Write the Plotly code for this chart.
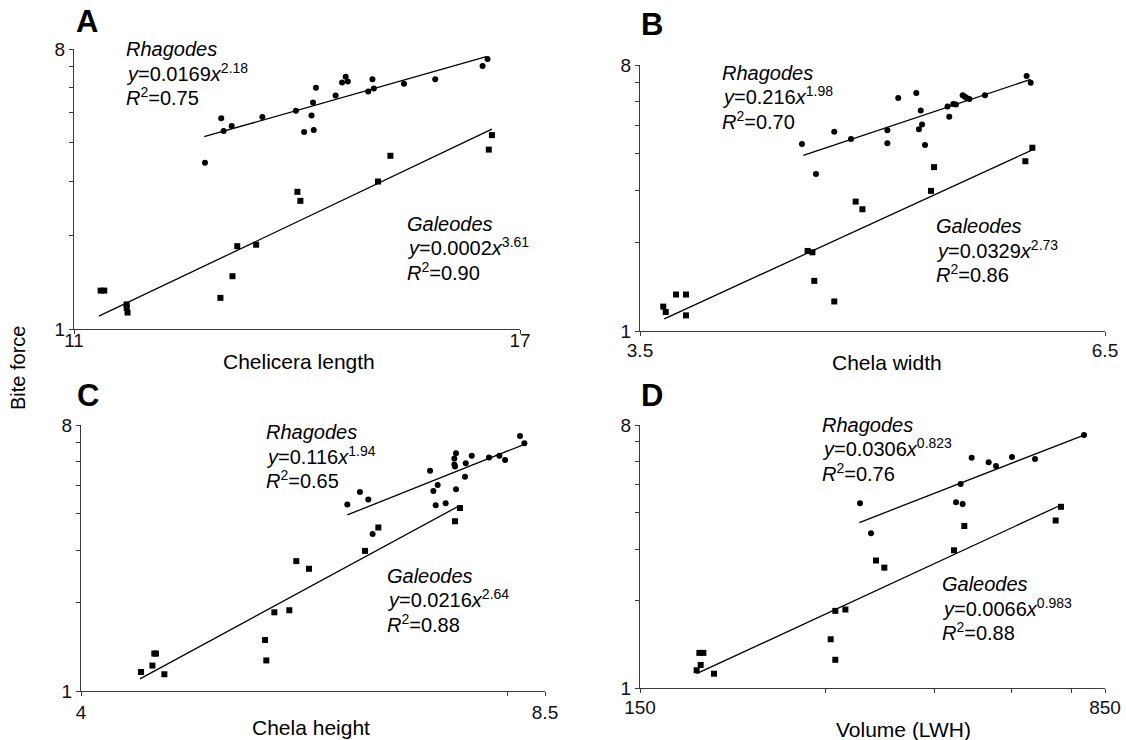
import math
import plotly.graph_objects as go

W, H = 1126, 740
FONT = "Liberation Sans, Arial, sans-serif"

# ---------------- data ----------------
# Panel A : Chelicera length
a_rh_x = [12.50, 12.70, 12.73, 12.83, 13.22, 13.66, 13.77, 13.87, 13.89, 13.90, 13.93,
          14.20, 14.29, 14.34, 14.37, 14.66, 14.72, 14.74, 15.18, 15.65, 16.39, 16.47]
a_rh_y = [3.44, 4.78, 4.35, 4.52, 4.83, 5.06, 4.32, 4.88, 5.38, 4.38, 6.00,
          5.66, 6.24, 6.51, 6.28, 5.84, 6.39, 5.97, 6.18, 6.39, 7.05, 7.43]
a_ga_x = [11.29, 11.33, 11.58, 11.58, 11.59, 12.69, 12.84, 12.90, 13.14, 13.68, 13.72,
          14.80, 14.98, 16.49, 16.54]
a_ga_y = [1.33, 1.33, 1.20, 1.17, 1.13, 1.26, 1.48, 1.85, 1.87, 2.77, 2.59,
          2.99, 3.62, 3.79, 4.22]
a_rh_fit_x = [12.49, 16.45]
a_rh_fit_y = [4.17, 7.56]
a_ga_fit_x = [11.27, 16.54]
a_ga_fit_y = [1.10, 4.41]

# Panel B : Chela width
b_rh_x = [4.342, 4.424, 4.533, 4.635, 4.865, 4.865, 4.936, 5.056, 5.074, 5.086, 5.095, 5.115,
          5.271, 5.283, 5.311, 5.330, 5.378, 5.394, 5.406, 5.426, 5.540, 5.856, 5.888]
b_rh_y = [4.31, 3.41, 4.75, 4.49, 4.80, 4.34, 6.18, 6.43, 4.84, 5.61, 5.02, 4.28,
          5.78, 5.34, 5.90, 5.88, 6.31, 6.24, 6.18, 6.13, 6.31, 7.34, 6.97]
b_ga_x = [3.610, 3.622, 3.672, 3.721, 3.721, 4.375, 4.403, 4.414, 4.533, 4.664, 4.706,
          5.156, 5.177, 5.846, 5.901]
b_ga_y = [1.21, 1.16, 1.33, 1.33, 1.13, 1.87, 1.85, 1.48, 1.26, 2.75, 2.59,
          2.99, 3.60, 3.77, 4.19]
b_rh_fit_x = [4.35, 5.888]
b_rh_fit_y = [3.95, 7.15]
b_ga_fit_x = [3.615, 5.901]
b_ga_fit_y = [1.10, 4.12]

# Panel C : Chela height
c_rh_x = [6.165, 6.293, 6.379, 6.424, 7.052, 7.090, 7.117, 7.140, 7.233, 7.336, 7.336,
          7.344, 7.356, 7.356, 7.464, 7.473, 7.546, 7.761, 7.893, 7.966, 8.162, 8.220]
c_rh_y = [4.30, 4.74, 4.47, 3.41, 5.60, 4.78, 4.27, 5.00, 4.34, 6.16, 5.88,
          5.78, 6.41, 4.84, 5.34, 5.93, 6.29, 6.20, 6.29, 6.08, 7.34, 6.93]
c_ga_x = [4.410, 4.492, 4.506, 4.518, 4.580, 5.394, 5.405, 5.476, 5.611, 5.675, 5.793,
          6.345, 6.484, 7.344, 7.404]
c_ga_y = [1.16, 1.22, 1.34, 1.34, 1.14, 1.49, 1.27, 1.85, 1.88, 2.76, 2.60,
          2.99, 3.59, 3.77, 4.18]
c_rh_fit_x = [6.165, 8.220]
c_rh_fit_y = [3.96, 6.88]
c_ga_fit_x = [4.402, 7.372]
c_ga_fit_y = [1.10, 4.22]

# Panel D : Volume (LWH)
d_rh_x = [340.8, 355.1, 487.5, 496.1, 499.8, 516.9, 550.8, 566.0, 600.8, 654.7, 786.0]
d_rh_y = [4.31, 3.40, 4.34, 5.02, 4.28, 6.18, 5.96, 5.79, 6.21, 6.12, 7.39]
d_ga_x = [185.3, 187.2, 188.1, 190.0, 197.7, 305.5, 310.8, 310.8, 322.7, 361.8, 373.2,
          483.9, 502.9, 707.1, 721.3]
d_ga_y = [1.15, 1.32, 1.20, 1.32, 1.12, 1.47, 1.84, 1.25, 1.86, 2.74, 2.59,
          2.97, 3.60, 3.76, 4.19]
d_rh_fit_x = [340.0, 786.0]
d_rh_fit_y = [3.70, 7.39]
d_ga_fit_x = [185.3, 721.3]
d_ga_fit_y = [1.12, 4.25]

# axis ranges and tick labels
x_ranges = [[11, 17], [3.5, 6.5], [4, 8.5], [150, 850]]
x_tickvals = [[11, 17], [3.5, 6.5], [4, 8.5], [150, 850]]
x_ticktext = [["11", "17"], ["3.5", "6.5"], ["4", "8.5"], ["150", "850"]]
x_minorvals = [[], [], [8], [300, 450, 600, 750]]
y_range = [1, 8]
y_tickvals = [1, 8]
y_ticktext = ["1", "8"]
y_minorvals = [2, 3, 4, 5, 6, 7]
x_titles = ["Chelicera length", "Chela width", "Chela height", "Volume (LWH)"]
y_title = "Bite force"
panel_letters = ["A", "B", "C", "D"]
rh_coef = ["0.0169", "0.216", "0.116", "0.0306"]
rh_exp = ["2.18", "1.98", "1.94", "0.823"]
rh_r2 = ["0.75", "0.70", "0.65", "0.76"]
ga_coef = ["0.0002", "0.0329", "0.0216", "0.0066"]
ga_exp = ["3.61", "2.73", "2.64", "0.983"]
ga_r2 = ["0.90", "0.86", "0.88", "0.88"]

panels = [
    (a_rh_x, a_rh_y, a_ga_x, a_ga_y, a_rh_fit_x, a_rh_fit_y, a_ga_fit_x, a_ga_fit_y),
    (b_rh_x, b_rh_y, b_ga_x, b_ga_y, b_rh_fit_x, b_rh_fit_y, b_ga_fit_x, b_ga_fit_y),
    (c_rh_x, c_rh_y, c_ga_x, c_ga_y, c_rh_fit_x, c_rh_fit_y, c_ga_fit_x, c_ga_fit_y),
    (d_rh_x, d_rh_y, d_ga_x, d_ga_y, d_rh_fit_x, d_rh_fit_y, d_ga_fit_x, d_ga_fit_y),
]

# ---------------- layout geometry (pixels) ----------------
# (left, right, top, bottom) of each plotting area
boxes = [(74, 520, 49, 329), (640, 1105, 65, 331), (81, 545, 425, 691), (640, 1105, 425, 688)]
xlab_standoff = [-10, -2, 0, -2]
letter_pos = [(75, 21.5), (640, 24), (76, 395), (640, 395)]
xtitle_pos = [(299, 361), (887, 362), (311, 727), (903, 729)]
# (left, first baseline) of the equation blocks
rh_text_pos = [(125, 57), (721, 80.5), (265, 440), (821, 432.5)]
ga_text_pos = [(406, 231.5), (935, 234), (386, 583.5), (941, 592)]
LINE_STEP = 24.5
EQ_SIZE = 20


def px(x):
    return x / W


def py(y):
    return 1 - y / H


fig = go.Figure()
LINE_COL = "#3a3a3a"


def add_block(lines, left, base):
    for k, txt in enumerate(lines):
        b = base + k * LINE_STEP
        fig.add_annotation(x=px(left), y=py(b + 0.21 * EQ_SIZE), xref="paper", yref="paper",
                           text=txt, showarrow=False, xanchor="left", yanchor="bottom",
                           align="left", borderpad=0,
                           font=dict(family=FONT, size=EQ_SIZE, color="black"))


for i, (rx, ry, gx, gy, rfx, rfy, gfx, gfy) in enumerate(panels):
    sfx = "" if i == 0 else str(i + 1)
    xa, ya = "x" + sfx, "y" + sfx
    fig.add_trace(go.Scatter(x=rfx, y=rfy, mode="lines", xaxis=xa, yaxis=ya,
                             line=dict(color="black", width=1.3), showlegend=False, hoverinfo="skip"))
    fig.add_trace(go.Scatter(x=gfx, y=gfy, mode="lines", xaxis=xa, yaxis=ya,
                             line=dict(color="black", width=1.3), showlegend=False, hoverinfo="skip"))
    fig.add_trace(go.Scatter(x=rx, y=ry, mode="markers", xaxis=xa, yaxis=ya, name="Rhagodes",
                             marker=dict(symbol="circle", size=6, color="black"), showlegend=False))
    fig.add_trace(go.Scatter(x=gx, y=gy, mode="markers", xaxis=xa, yaxis=ya, name="Galeodes",
                             marker=dict(symbol="square", size=6, color="black"), showlegend=False))

    l, r, t, b = boxes[i]
    axis_common = dict(type="log", showgrid=False, zeroline=False, showline=True, automargin=False,
                       linecolor=LINE_COL, linewidth=1.3, ticks="outside", ticklen=4,
                       tickwidth=1, tickcolor=LINE_COL, tickmode="array",
                       tickfont=dict(family=FONT, size=19, color="#111"))
    minor_common = dict(tickmode="array", ticks="outside", ticklen=4, tickwidth=1,
                        tickcolor=LINE_COL, showgrid=False)
    xr = x_ranges[i]
    xaxis = dict(axis_common, domain=[px(l), px(r)], anchor=ya,
                 range=[math.log10(xr[0]), math.log10(xr[1])],
                 tickvals=x_tickvals[i], ticktext=x_ticktext[i],
                 ticklabelstandoff=xlab_standoff[i])
    if x_minorvals[i]:
        xaxis["minor"] = dict(minor_common, tickvals=x_minorvals[i])
    fig.layout["xaxis" + sfx] = xaxis
    fig.layout["yaxis" + sfx] = dict(axis_common, domain=[py(b), py(t)], anchor=xa,
                                     range=[math.log10(y_range[0]), math.log10(y_range[1])],
                                     tickvals=y_tickvals, ticktext=y_ticktext,
                                     minor=dict(minor_common, tickvals=y_minorvals),
                                     ticklabelstandoff=0)

    # panel letter
    lx, ly = letter_pos[i]
    fig.add_annotation(x=px(lx), y=py(ly), xref="paper", yref="paper", text="<b>%s</b>" % panel_letters[i],
                       showarrow=False, xanchor="left", yanchor="middle",
                       font=dict(family=FONT, size=31, color="black"), borderpad=0)
    # axis title
    tx, ty = xtitle_pos[i]
    fig.add_annotation(x=px(tx), y=py(ty), xref="paper", yref="paper", text=x_titles[i],
                       showarrow=False, xanchor="center", yanchor="middle",
                       font=dict(family=FONT, size=21, color="black"))
    # equations
    rtx, rty = rh_text_pos[i]
    add_block(["<i>Rhagodes</i>",
               "<i>y</i>=%s<i>x</i><sup>%s</sup>" % (rh_coef[i], rh_exp[i]),
               "<i>R</i><sup>2</sup>=%s" % rh_r2[i]], rtx, rty)
    gtx, gty = ga_text_pos[i]
    add_block(["<i>Galeodes</i>",
               "<i>y</i>=%s<i>x</i><sup>%s</sup>" % (ga_coef[i], ga_exp[i]),
               "<i>R</i><sup>2</sup>=%s" % ga_r2[i]], gtx, gty)

fig.add_annotation(x=px(18), y=py(368), xref="paper", yref="paper", text=y_title, textangle=-90,
                   showarrow=False, xanchor="center", yanchor="middle",
                   font=dict(family=FONT, size=20, color="black"))

fig.update_layout(template="none", width=W, height=H, autosize=False, margin=dict(l=0, r=0, t=0, b=0),
                  paper_bgcolor="white", plot_bgcolor="white", showlegend=False,
                  font=dict(family=FONT, color="black"))

fig.write_html("out.html", config={"displayModeBar": False},
               post_script="document.body.style.margin='0';document.body.style.padding='0';"
                           "document.body.style.overflow='hidden';")
